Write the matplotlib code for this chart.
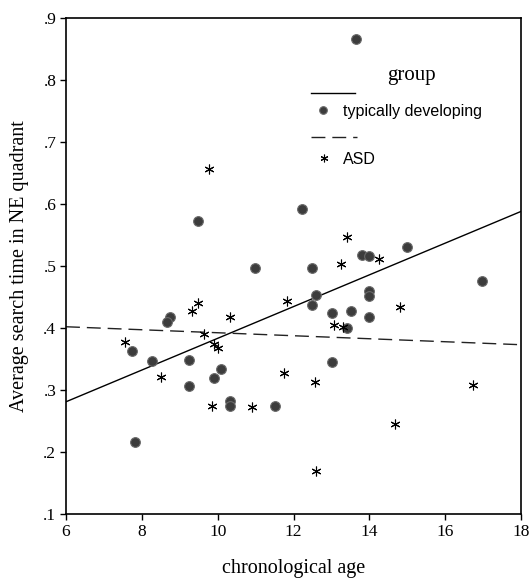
import matplotlib.pyplot as plt
import numpy as np

# Scatter: age vs. average search time in NE quadrant
td_age = [13.64, 12.23, 9.49, 10.98, 12.49, 15.0, 13.80, 13.99, 16.98, 12.59,
          13.99, 13.99, 12.49, 13.01, 13.51, 13.99, 13.42, 8.75, 8.67, 7.74,
          8.27, 9.24, 10.08, 9.90, 9.24, 13.01, 10.32, 10.32, 11.51, 7.82]
td_time = [0.866, 0.592, 0.573, 0.496, 0.496, 0.530, 0.518, 0.516, 0.475, 0.454,
           0.460, 0.452, 0.437, 0.424, 0.428, 0.417, 0.400, 0.417, 0.409, 0.363,
           0.346, 0.348, 0.334, 0.319, 0.306, 0.345, 0.283, 0.274, 0.274, 0.216]

asd_age = [9.77, 13.42, 13.25, 14.26, 11.82, 9.49, 9.31, 10.32, 14.81, 13.08,
           13.31, 9.65, 7.56, 9.90, 10.0, 8.51, 11.75, 12.58, 16.74, 9.84,
           10.91, 14.69, 12.59]
asd_time = [0.656, 0.546, 0.503, 0.511, 0.444, 0.441, 0.428, 0.418, 0.434, 0.405,
            0.402, 0.391, 0.377, 0.374, 0.368, 0.321, 0.328, 0.313, 0.308, 0.274,
            0.272, 0.245, 0.170]

# fitted lines (endpoints)
fit_x = [6, 18]
td_fit = [0.281, 0.588]
asd_fit = [0.402, 0.373]

x_ticks = [6, 8, 10, 12, 14, 16, 18]
y_ticks = [0.1, 0.2, 0.3, 0.4, 0.5, 0.6, 0.7, 0.8, 0.9]
y_labels = ['.1', '.2', '.3', '.4', '.5', '.6', '.7', '.8', '.9']

serif = 'Liberation Serif'
sans = 'Liberation Sans'
asterisk = (6, 2, 0)
dash = (10, 5)

fig = plt.figure(figsize=(5.32, 5.79), dpi=100)
ax = fig.add_axes([0.1241, 0.1123, 0.8552, 0.8566])

ax.plot(fit_x, td_fit, color='black', lw=1.0)
ax.plot(fit_x, asd_fit, color='#222222', lw=1.0, dashes=dash)

ax.plot(td_age, td_time, ls='none', marker='o', ms=7,
        mfc='#3c3c3c', mec='#6a6a6a', mew=0.8)
ax.plot(asd_age, asd_time, ls='none', marker=asterisk, ms=7,
        mec='black', mew=0.8)

ax.set_xlim(6, 18)
ax.set_ylim(0.1, 0.9)
ax.set_xticks(x_ticks)
ax.set_yticks(y_ticks)
ax.set_yticklabels(y_labels)
ax.tick_params(direction='out', length=4, width=1, labelsize=12.5, pad=3)
for lab in ax.get_xticklabels() + ax.get_yticklabels():
    lab.set_family(serif)

for s in ax.spines.values():
    s.set_linewidth(1.2)

ax.set_xlabel('chronological age', family=serif, fontsize=14.5, labelpad=14)
ax.set_ylabel('Average search time in NE quadrant', family=serif,
              fontsize=14.5, labelpad=10)

# legend drawn by hand
tr = ax.transAxes
ax.text(0.760, 0.885, 'group', transform=tr, family=serif, fontsize=15,
        ha='center', va='center')
ax.plot([0.538, 0.635], [0.849, 0.849], transform=tr, color='black', lw=1.0)
ax.plot([0.565], [0.815], transform=tr, ls='none', marker='o', ms=5.5,
        mfc='#3c3c3c', mec='#6a6a6a', mew=0.8)
ax.text(0.609, 0.812, 'typically developing', transform=tr, family=sans,
        fontsize=11.5, va='center')
ax.plot([0.538, 0.640], [0.760, 0.760], transform=tr, color='#222222', lw=1.0,
        dashes=dash)
ax.plot([0.567], [0.718], transform=tr, ls='none', marker=asterisk, ms=5.5,
        mec='black', mew=0.8)
ax.text(0.609, 0.714, 'ASD', transform=tr, family=sans, fontsize=11.5,
        va='center')

plt.savefig('out.png', dpi=100)
